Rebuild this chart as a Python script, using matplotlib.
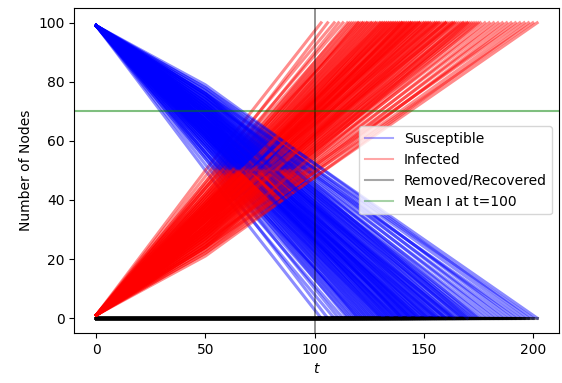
import numpy as np
import matplotlib.pyplot as plt

# end time of each run (S hits 0) and S read at t=50
t_end = [103, 106, 109, 111, 113, 115, 116, 117, 118, 119,
         120, 120, 121, 122, 122, 123, 124, 124, 125, 126,
         126, 127, 128, 128, 129, 130, 130, 131, 131, 132,
         133, 133, 134, 134, 135, 135, 136, 137, 137, 138,
         138, 139, 139, 140, 140, 141, 141, 142, 142, 143,
         143, 144, 144, 145, 145, 146, 146, 147, 147, 148,
         148, 149, 150, 150, 151, 151, 152, 153, 153, 154,
         155, 155, 156, 157, 157, 158, 159, 160, 160, 161,
         162, 163, 163, 164, 165, 166, 167, 168, 168, 169,
         170, 171, 172, 173, 174, 175, 176, 178, 180, 182,
         184, 186, 188, 190, 192, 194, 196, 198, 200, 202,
         132, 136, 140, 144, 148, 152, 156, 160, 164, 170]
s_mid = [50, 54, 52, 56, 54, 58, 55, 59, 56, 60,
         57, 61, 58, 62, 56, 60, 63, 58, 61, 64,
         59, 62, 65, 60, 63, 66, 61, 64, 59, 62,
         66, 61, 64, 67, 62, 65, 68, 63, 66, 61,
         64, 67, 62, 65, 69, 64, 67, 62, 66, 69,
         64, 67, 63, 70, 65, 68, 63, 66, 70, 65,
         68, 71, 66, 63, 69, 67, 71, 66, 69, 72,
         67, 70, 65, 71, 68, 73, 69, 72, 67, 70,
         73, 69, 71, 74, 70, 72, 75, 70, 73, 71,
         74, 72, 75, 71, 73, 76, 72, 75, 73, 76,
         74, 77, 75, 78, 76, 74, 77, 79, 76, 78,
         65, 62, 67, 69, 64, 68, 72, 70, 67, 76]
t_mid = 50
n_nodes = 100
s0 = 99
t_check = 100
mean_i_check = 70

fig, ax = plt.subplots(figsize=(5.62, 3.83), dpi=100)
fig.subplots_adjust(left=0.132, right=0.995, bottom=0.131, top=0.979)

for k, (T, sm) in enumerate(zip(t_end, s_mid)):
    t = np.array([0, t_mid, T])
    S = np.array([s0, sm, 0])
    I = n_nodes - S
    R = np.zeros_like(S)
    ax.plot(t, S, color='b', alpha=0.45, lw=2.2, label='Susceptible' if k == 0 else None)
    ax.plot(t, I, color='r', alpha=0.45, lw=2.2, label='Infected' if k == 0 else None)
    ax.plot(t, R, color='k', alpha=0.45, lw=2.2, label='Removed/Recovered' if k == 0 else None)

ax.axvline(t_check, color='k', alpha=0.5, lw=1.2)
ax.axhline(mean_i_check, color='g', alpha=0.5, lw=1.5, label='Mean I at t=100')

ax.set_xlabel('$t$')
ax.set_ylabel('Number of Nodes')
ax.set_xticks([0, 50, 100, 150, 200])
ax.set_yticks([0, 20, 40, 60, 80, 100])
leg = ax.legend(loc='center right')
for line in leg.get_lines():
    line.set_linewidth(1.5)
    line.set_alpha(0.35)

plt.savefig('out.png')
